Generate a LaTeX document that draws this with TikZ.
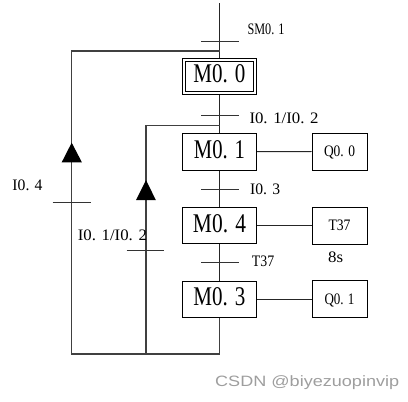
\documentclass[tikz,border=0pt]{standalone}
\usepackage{fontspec}
\setmainfont{Liberation Serif}
\newfontfamily\wmfont{Liberation Sans}
\usepackage{graphicx}
\usetikzlibrary{backgrounds}
\newcommand\lab[2]{\resizebox{#1pt}{\height}{#2}}
\begin{document}
\begin{tikzpicture}[x=1pt,y=-1pt,
  ln/.style={draw=black!85, line width=0.9pt},
  loopln/.style={draw=black!75, line width=1.2pt},
  tickln/.style={draw=black!80, line width=0.9pt},
  stepbox/.style={draw=black, line width=0.8pt, fill=white, minimum width=74pt, minimum height=36.7pt, inner sep=0pt, font=\fontsize{27}{27}\selectfont, text height=18pt, text depth=5pt},
  actbox/.style={draw=black, line width=0.8pt, fill=white, minimum width=55pt, minimum height=37pt, inner sep=0pt, font=\fontsize{16}{16}\selectfont, text height=10.8pt, text depth=0pt},
  lbl/.style={inner sep=0pt, anchor=base west, font=\fontsize{16}{16}\selectfont}
]
\useasboundingbox (0,0) rectangle (408,402);

% steps
\node[stepbox, minimum height=36pt] (m0) at (219.5,76) {\lab{52}{M0. 0}};
\draw[black, line width=0.8pt] ([shift={(3.4,3.6)}]m0.north west) rectangle ([shift={(-3.6,-3.4)}]m0.south east);
\node[stepbox] (m1) at (219.5,151.7) {\lab{51}{M0. 1}};
\node[stepbox] (m4) at (219.5,225.5) {\lab{53}{M0. 4}};
\node[stepbox] (m3) at (219.5,299.3) {\lab{52}{M0. 3}};

% actions
\node[actbox] (q0) at (339.5,151.5) {\lab{31}{Q0. 0}\hspace{6pt}};
\node[actbox] (t37) at (339.5,225.5) {\lab{22}{T37}\hspace{9pt}};
\node[actbox] (q1) at (339.5,299.3) {\lab{30}{Q0. 1}};

% junction points
\coordinate (top) at (219.5,3);
\coordinate (j0) at (219.5,51);
\coordinate (j1) at (219.5,125.7);
\coordinate (bot) at (219.5,354);
\coordinate (bl) at (71.7,354);
\coordinate (tl) at (71.7,51);
\coordinate (bm) at (146,354);
\coordinate (tm) at (146,125.7);

% labels
\node[lbl] (lsm) at (247.3,34.3) {\lab{37}{SM0. 1}};
\node[lbl] (l12a) at (249.3,123) {\lab{69}{I0. 1/I0. 2}};
\node[lbl] (l03) at (250,194) {\lab{30}{I0. 3}};
\node[lbl] (lt37) at (251.7,266.7) {\lab{22.3}{T37}};
\node[lbl] (l04) at (12.3,190) {\lab{30}{I0. 4}};
\node[lbl] (l12b) at (77.7,240.7) {\lab{69}{I0. 1/I0. 2}};
\node[lbl] (l8s) at (328,262) {\lab{15}{8s}};

% watermark
\node[inner sep=0pt, anchor=base west, text=black!38, font=\wmfont\fontsize{15}{15}\selectfont] (wm) at (215,386) {\resizebox{184pt}{\height}{CSDN @biyezuopinvip}};

\begin{scope}[on background layer]
\draw[ln] (top) -- (m0.north);
\draw[ln] (m0.south) -- (m1.north);
\draw[ln] (m1) -- (m4);
\draw[ln] (m4) -- (m3);
\draw[loopln] (m3.south) -- (bot) -- (bl) -- (tl) -- (j0);
\draw[loopln] (bm) -- (tm) -- (j1);
\draw[ln] (m1) -- (q0);
\draw[ln] (m4) -- (t37);
\draw[ln] (m3) -- (q1);
\end{scope}

% transition ticks
\draw[tickln] (201,41) -- (239,41);
\draw[tickln] (201,115) -- (239,115);
\draw[tickln] (201,189) -- (239,189);
\draw[tickln] (201,262.7) -- (239,262.7);
\draw[tickln] (52.7,202.5) -- (90.7,202.5);
\draw[tickln] (126.7,250.7) -- (164.3,250.7);

% arrowheads
\fill[black] (71.7,142.7) -- (61.7,162.3) -- (81.9,162.3) -- cycle;
\fill[black] (146,180) -- (136,200) -- (155.8,200) -- cycle;
\end{tikzpicture}
\end{document}
